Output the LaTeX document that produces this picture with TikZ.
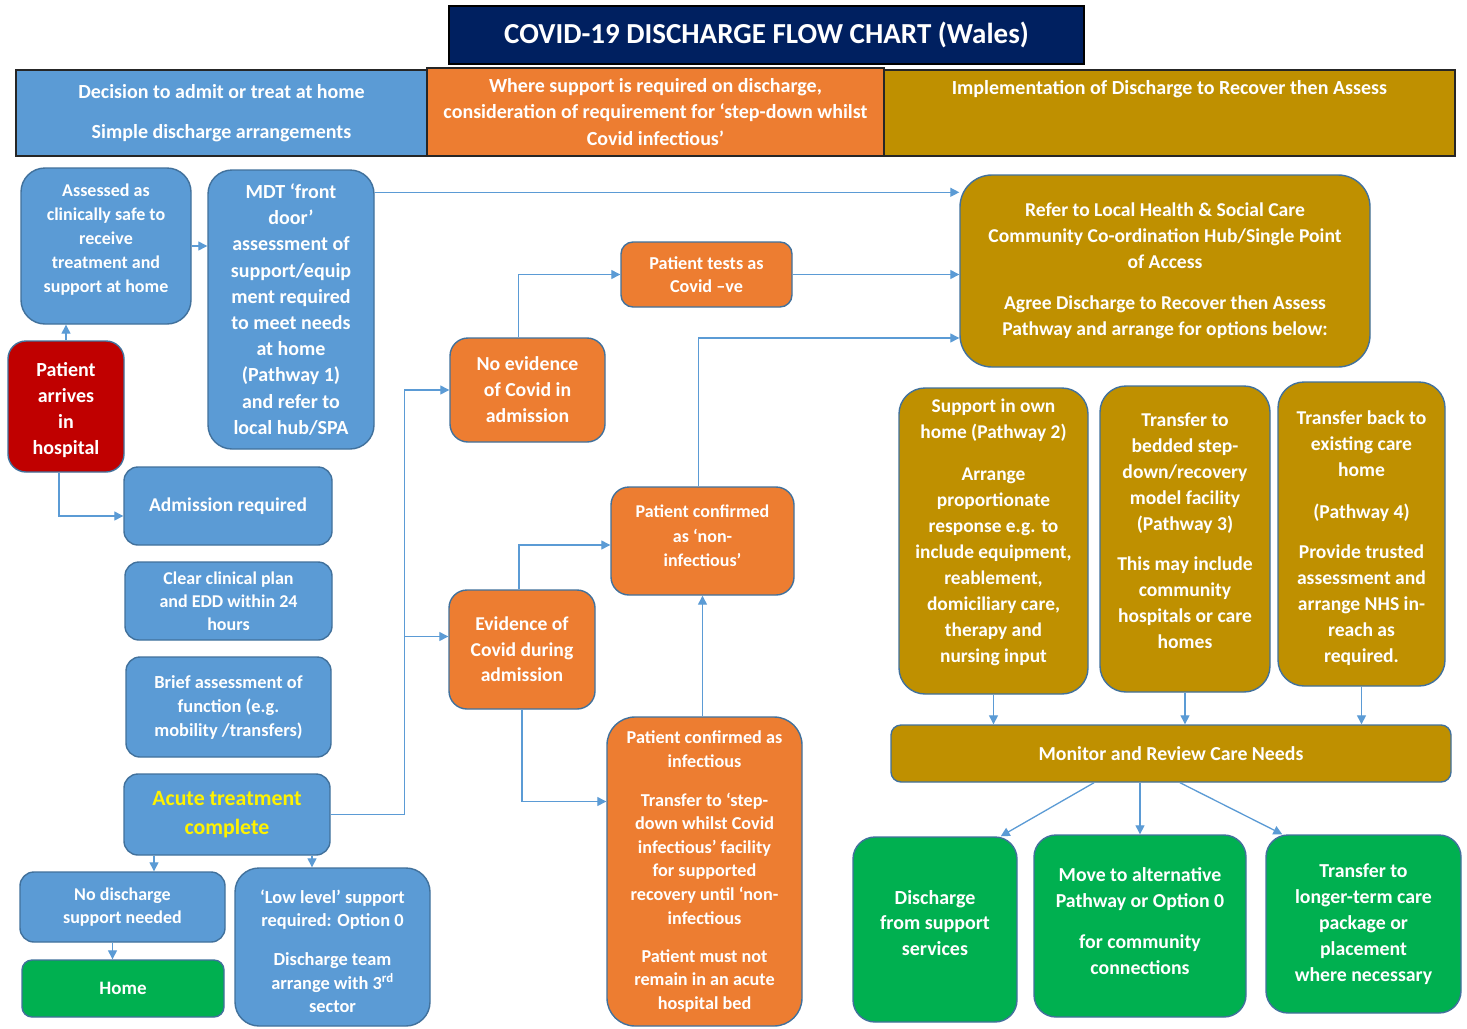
\documentclass[tikz,border=0pt]{standalone}
\usepackage{fontspec}
\setmainfont{Carlito}
\usetikzlibrary{arrows.meta}
\definecolor{navy}{HTML}{002060}
\definecolor{nhsblue}{HTML}{5B9BD5}
\definecolor{edgeblue}{HTML}{41719C}
\definecolor{covidorange}{HTML}{ED7D31}
\definecolor{gold}{HTML}{BF9000}
\definecolor{arrivered}{HTML}{C00000}
\definecolor{homegreen}{HTML}{00B050}
\newcommand{\fsz}[2]{\fontsize{#1}{#2}\selectfont}
\newcommand{\padtop}[1]{\mbox{}\\[#1]}
\newcommand{\padbot}[1]{\\[#1]\mbox{}}

\begin{document}
\begin{tikzpicture}[x=1pt, y=-1pt,
  wh/.style 2 args = {minimum width=#1, minimum height=#2},
  box/.style = {shape=rectangle, rounded corners=14pt, draw=edgeblue,
    line width=1.4pt, align=center, text=white, inner sep=2pt,
    font=\bfseries\fsz{18}{24}},
  bluebox/.style = {box, fill=nhsblue},
  orangebox/.style = {box, fill=covidorange},
  goldbox/.style = {box, fill=gold, font=\bfseries\fsz{19.6}{26}},
  greenbox/.style = {box, fill=homegreen, rounded corners=22pt,
    font=\bfseries\fsz{19.8}{26}},
  redbox/.style = {box, fill=arrivered},
  band/.style = {shape=rectangle, draw=black!85, line width=1.6pt,
    text=white, align=center, font=\bfseries\fsz{20}{24}},
  bandtext/.style = {text=white, align=center, font=\bfseries\fsz{20}{24}},
  link/.style = {draw=nhsblue, line width=1.3pt},
  flow/.style = {link, -{Triangle[length=9pt,width=9pt]}}]

\fill[white] (0,0) rectangle (1467,1028);
\useasboundingbox (0,0) rectangle (1467,1028);

% title and column headings
\node[band, fill=navy, draw=black, wh={635}{58}, font=\bfseries\fsz{29}{32}]
  (title) at (766.5,35) {COVID-19 DISCHARGE FLOW CHART (Wales)};
\node[band, fill=nhsblue, wh={411}{86}] (hblue) at (221.5,113)
  {Decision to admit or treat at home\\[16pt]Simple discharge arrangements};
\node[band, fill=covidorange, wh={457}{88}, font=\bfseries\fsz{20}{26.5}]
  (horange) at (655.5,112) {Where support is required on discharge,\\consideration of requirement for ‘step-down whilst\\Covid infectious’};
\node[band, fill=gold, wh={571}{86}] (hgold) at (1169.5,113) {};
\node[bandtext] (hgoldtext) at (1169.5,89) {Implementation of Discharge to Recover then Assess};

% blue column
\node[bluebox, rounded corners=24pt, wh={170}{156}] (assess) at (106,246)
  {Assessed as\\clinically safe to\\receive\\treatment and\\support at home\padbot{-8pt}};
\node[bluebox, rounded corners=24pt, wh={166}{279}, font=\bfseries\fsz{20}{26.2}]
  (mdt) at (291,309.5) {MDT ‘front\\door’\\assessment of\\support/equip\\ment required\\to meet needs\\at home\\(Pathway 1)\\and refer to\\local hub/SPA};
\node[redbox, rounded corners=18pt, wh={116}{131}, font=\bfseries\fsz{20}{26}]
  (arrive) at (66,406.5) {\padtop{-5pt}Patient\\arrives\\in\\hospital};
\node[bluebox, wh={208}{78}, font=\bfseries\fsz{19.5}{24}] (admit) at (228,506)
  {Admission required};
\node[bluebox, wh={207}{78}, font=\bfseries\fsz{18}{23}] (plan) at (228.5,601)
  {Clear clinical plan\\and EDD within 24\\hours};
\node[bluebox, wh={205}{100}, font=\bfseries\fsz{18.4}{24}] (brief) at (228.5,707)
  {Brief assessment of\\function (e.g.\\mobility /transfers)};
\node[bluebox, wh={206}{81}, text=yellow, font=\bfseries\fsz{21.8}{29}] (acute)
  at (227,814.5) {Acute treatment\\complete};
\node[bluebox, wh={205}{70}, font=\bfseries\fsz{18}{23}] (nodis) at (122.5,907)
  {No discharge\\support needed};
\node[greenbox, rounded corners=10pt, wh={202}{57}, font=\bfseries\fsz{19}{24}]
  (home) at (123,988.5) {Home};
\node[bluebox, rounded corners=24pt, wh={195}{158}, font=\bfseries\fsz{18.4}{23.5}]
  (low) at (332.5,947) {\padtop{-1.5pt}‘Low level’ support\\required: Option 0\\[15.5pt]Discharge team\\arrange with 3\textsuperscript{rd}\\sector};

% orange column
\node[orangebox, rounded corners=18pt, wh={155}{104}, font=\bfseries\fsz{19.8}{26}]
  (noev) at (527.5,390) {No evidence\\of Covid in\\admission};
\node[orangebox, rounded corners=12pt, wh={171}{65}, font=\bfseries\fsz{18.2}{23}]
  (tests) at (706.5,274.5) {Patient tests as\\Covid –ve};
\node[orangebox, rounded corners=18pt, wh={146}{119}, font=\bfseries\fsz{19.6}{25.5}]
  (evid) at (522,649.5) {Evidence of\\Covid during\\admission};
\node[orangebox, rounded corners=18pt, wh={183}{108}, font=\bfseries\fsz{18}{24.5}]
  (noninf) at (702.5,541) {Patient confirmed\\as ‘non-\\infectious’\padbot{-14.5pt}};
\node[orangebox, rounded corners=28pt, wh={195}{309}, font=\bfseries\fsz{18.2}{23.6}]
  (infect) at (704.5,871.5) {Patient confirmed as\\infectious\\[15.5pt]Transfer to ‘step-\\down whilst Covid\\infectious’ facility\\for supported\\recovery until ‘non-\\infectious\\[14.5pt]Patient must not\\remain in an acute\\hospital bed};

% gold column
\node[goldbox, rounded corners=32pt, wh={410}{192}] (refer) at (1165,271)
  {Refer to Local Health \& Social Care\\Community Co-ordination Hub/Single Point\\of Access\\[15pt]Agree Discharge to Recover then Assess\\Pathway and arrange for options below:};
\node[goldbox, rounded corners=26pt, wh={189}{306}, font=\bfseries\fsz{19.4}{26}]
  (path2) at (993.5,541) {Support in own\\home (Pathway 2)\\[16pt]Arrange\\proportionate\\response e.g. to\\include equipment,\\reablement,\\domiciliary care,\\therapy and\\nursing input\padbot{-6pt}};
\node[goldbox, rounded corners=26pt, wh={170}{306}] (path3) at (1185,539)
  {Transfer to\\bedded step-\\down/recovery\\model facility\\(Pathway 3)\\[14pt]This may include\\community\\hospitals or care\\homes\padbot{-10pt}};
\node[goldbox, rounded corners=26pt, wh={167}{304}] (path4) at (1361.5,534)
  {\padtop{-3pt}Transfer back to\\existing care\\home\\[16pt](Pathway 4)\\[14pt]Provide trusted\\assessment and\\arrange NHS in-\\reach as\\required.};
\node[goldbox, rounded corners=10pt, wh={560}{57}, font=\bfseries\fsz{19.8}{24}]
  (monitor) at (1171,753.5) {Monitor and Review Care Needs};
\node[greenbox, wh={164}{185}, font=\bfseries\fsz{20}{25.5}] (disch) at (935,929.5)
  {Discharge\\from support\\services\padbot{-11.5pt}};
\node[greenbox, wh={212}{182}] (move) at (1140,926)
  {Move to alternative\\Pathway or Option 0\\[15pt]for community\\connections\padbot{-16pt}};
\node[greenbox, wh={195}{178}] (longer) at (1363.5,924)
  {Transfer to\\longer-term care\\package or\\placement\\where necessary};

% connectors
\draw[flow] (assess.east) -- (assess.east -| mdt.west);
\draw[flow] (arrive.north) -- (arrive.north |- assess.south);
\draw[flow] ([xshift=-7pt]arrive.south) |- ([yshift=-10pt]admit.west);
\coordinate (mdtout) at ([yshift=-23pt]mdt.north east);
\draw[flow] (mdtout) -- (mdtout -| refer.west);

\coordinate (split) at ([xshift=74pt]acute.east);
\coordinate (evidin) at ([yshift=13pt]evid.west);
\draw[link] (acute.east) -- (split);
\draw[flow] (split) |- (noev.west);
\draw[flow] (split |- evidin) -- (evidin);

\coordinate (noevout) at ([xshift=-9pt]noev.north);
\draw[flow] (noevout) |- (tests.west);
\draw[flow] (tests.east) -- (tests.east -| refer.west);
\coordinate (evidout) at ([xshift=-3pt]evid.north);
\draw[flow] (evidout) |- ([yshift=-4pt]noninf.west);
\draw[flow] (evid.south) |- ([yshift=70pt]infect.west);
\draw[flow] (infect.north -| noninf.south) -- (noninf.south);
\coordinate (referin) at ([yshift=-67pt]refer.west);
\draw[flow] ([xshift=-4pt]noninf.north) |- (referin);

\foreach \p in {path2, path3, path4}
  \draw[flow] (\p.south) -- (\p.south |- monitor.north);
\draw[flow] ([xshift=-77pt]monitor.south) -- ([xshift=-17pt]disch.north east);
\draw[flow] (monitor.south -| move.north) -- (move.north);
\draw[flow] ([xshift=9pt]monitor.south) -- ([xshift=17pt]longer.north west);

\coordinate (acuteleft) at ([xshift=-73pt]acute.south);
\coordinate (acuteright) at ([xshift=85pt]acute.south);
\coordinate (nodisout) at ([xshift=-10pt]nodis.south);
\draw[flow] (acuteleft) -- (acuteleft |- nodis.north);
\draw[flow] (acuteright) -- (acuteright |- low.north);
\draw[flow] (nodisout) -- (nodisout |- home.north);
\end{tikzpicture}
\end{document}
